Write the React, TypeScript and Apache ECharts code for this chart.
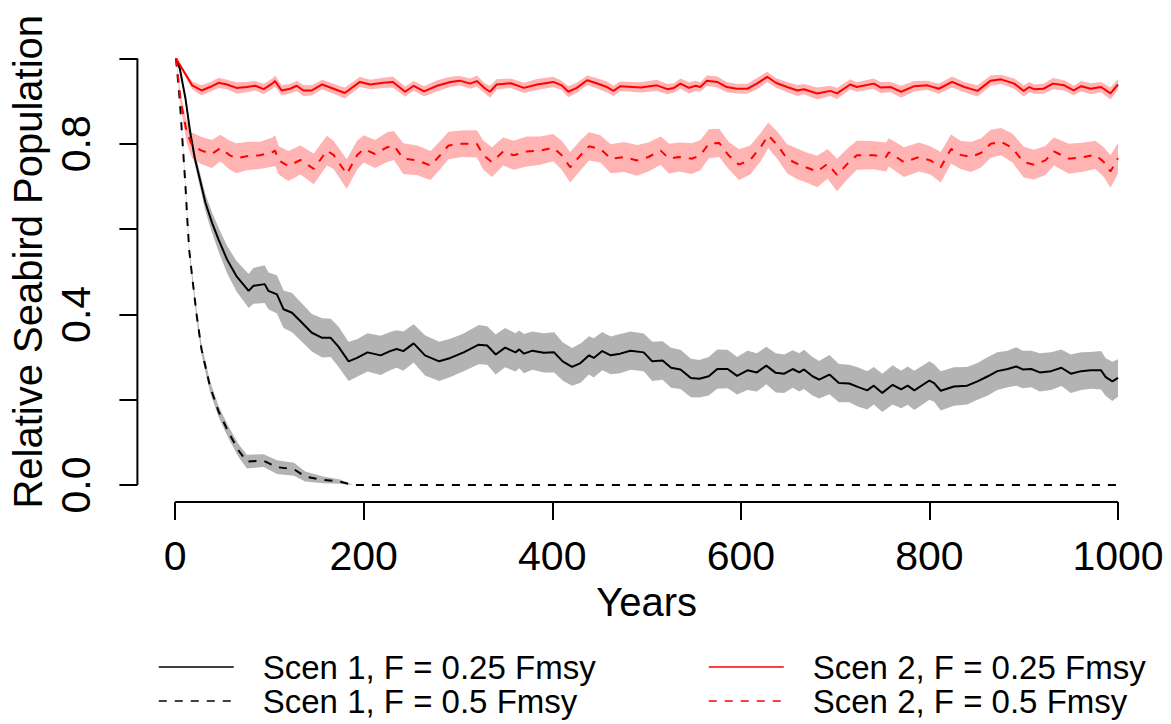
import React, { useEffect, useRef } from "react";
import * as echarts from "echarts";

// ---- tick / label values ----
const xTicks = [0, 200, 400, 600, 800, 1000];
const yTicks = [0, 0.2, 0.4, 0.6, 0.8, 1.0];
const yLabelValues = [0, 0.4, 0.8];

const legendNames = [
  "Scen 1, F = 0.25 Fmsy",
  "Scen 1, F = 0.5 Fmsy",
  "Scen 2, F = 0.25 Fmsy",
  "Scen 2, F = 0.5 Fmsy",
];

// ---- Scen 2, F = 0.25 Fmsy (solid red) ----
const s2aYears = [1,18,28,37,46,55,65,76,85,94,103,106,113,122,129,136,145,156,168,180,196,207,221,231,244,253,264,278,292,302,313,320,329,334,341,356,370,384,401,410,417,426,437,447,458,465,472,494,511,522,529,536,545,552,557,564,575,585,596,607,617,628,637,649,660,667,681,695,702,716,723,741,748,759,770,784,798,810,824,837,851,865,876,890,900,906,911,921,931,943,953,961,971,982,992,1000];
const s2aMean = [1.0,0.937,0.925,0.933,0.943,0.939,0.931,0.933,0.936,0.928,0.941,0.947,0.925,0.929,0.936,0.925,0.925,0.939,0.929,0.919,0.945,0.939,0.943,0.945,0.922,0.936,0.923,0.936,0.945,0.948,0.941,0.947,0.929,0.922,0.939,0.942,0.931,0.939,0.945,0.937,0.922,0.931,0.949,0.942,0.933,0.924,0.935,0.932,0.937,0.928,0.931,0.941,0.931,0.936,0.933,0.948,0.945,0.933,0.929,0.929,0.941,0.957,0.943,0.933,0.925,0.928,0.918,0.924,0.918,0.939,0.933,0.941,0.932,0.933,0.922,0.935,0.937,0.929,0.945,0.933,0.924,0.948,0.951,0.941,0.924,0.933,0.928,0.929,0.941,0.937,0.925,0.935,0.929,0.933,0.918,0.939];
const s2aSpread = [0.000,0.009,0.012,0.011,0.012,0.011,0.013,0.012,0.011,0.012,0.012,0.013,0.012,0.011,0.012,0.013,0.012,0.011,0.012,0.013,0.012,0.011,0.012,0.013,0.012,0.011,0.012,0.013,0.012,0.011,0.012,0.013,0.012,0.014,0.012,0.011,0.012,0.013,0.012,0.011,0.013,0.012,0.011,0.012,0.013,0.012,0.011,0.012,0.013,0.012,0.011,0.012,0.013,0.012,0.011,0.012,0.013,0.012,0.011,0.012,0.013,0.012,0.011,0.012,0.013,0.012,0.014,0.012,0.013,0.012,0.011,0.012,0.013,0.012,0.014,0.012,0.011,0.012,0.013,0.012,0.013,0.012,0.011,0.012,0.013,0.012,0.011,0.012,0.013,0.012,0.011,0.012,0.013,0.012,0.014,0.012];

// ---- Scen 2, F = 0.5 Fmsy (dashed red) ----
const s2bYears = [1,6,12,18,28,39,48,58,65,76,90,103,106,110,120,133,147,161,168,182,193,200,212,225,232,242,257,271,281,290,304,320,327,336,348,359,373,387,401,410,419,430,439,451,462,476,490,502,515,524,534,548,557,566,577,587,598,610,621,629,639,649,660,669,681,692,702,713,723,741,754,757,773,789,801,812,823,833,844,855,865,876,888,900,911,923,932,948,964,976,985,992,1000];
const s2bMean = [1.0,0.90,0.83,0.796,0.784,0.776,0.790,0.773,0.766,0.771,0.773,0.780,0.784,0.761,0.748,0.762,0.741,0.784,0.774,0.729,0.773,0.788,0.776,0.792,0.796,0.765,0.761,0.749,0.773,0.796,0.800,0.800,0.773,0.757,0.782,0.773,0.782,0.784,0.791,0.773,0.745,0.773,0.794,0.788,0.765,0.769,0.761,0.769,0.784,0.765,0.769,0.765,0.773,0.800,0.802,0.773,0.751,0.762,0.792,0.820,0.796,0.765,0.753,0.745,0.735,0.753,0.727,0.753,0.773,0.773,0.769,0.780,0.757,0.769,0.761,0.745,0.788,0.774,0.769,0.779,0.800,0.805,0.790,0.757,0.751,0.761,0.782,0.765,0.769,0.774,0.757,0.735,0.766];
const s2bSpread = [0.000,0.015,0.025,0.030,0.032,0.033,0.031,0.034,0.035,0.033,0.032,0.034,0.036,0.033,0.035,0.034,0.036,0.035,0.033,0.035,0.034,0.032,0.033,0.035,0.034,0.036,0.035,0.034,0.033,0.032,0.031,0.032,0.034,0.035,0.033,0.034,0.035,0.033,0.032,0.034,0.036,0.035,0.033,0.032,0.034,0.035,0.036,0.034,0.033,0.035,0.034,0.036,0.035,0.034,0.033,0.032,0.036,0.034,0.033,0.030,0.032,0.034,0.036,0.035,0.037,0.035,0.038,0.036,0.034,0.033,0.034,0.033,0.035,0.034,0.033,0.036,0.034,0.033,0.035,0.034,0.033,0.032,0.034,0.036,0.035,0.034,0.033,0.035,0.034,0.033,0.035,0.038,0.036];

// ---- Scen 1, F = 0.25 Fmsy (solid black) ----
const s1aYears = [1,5,11,16,21,27,32,39,46,55,65,78,83,95,99,108,115,124,133,145,156,165,173,184,193,204,218,228,235,242,253,265,280,292,306,322,331,340,350,361,365,370,379,391,402,411,421,430,439,444,453,462,472,483,497,506,517,526,536,547,556,566,575,586,596,607,617,627,637,646,655,662,667,676,683,694,704,715,724,734,741,750,761,770,777,784,800,805,812,826,840,851,862,872,883,892,899,908,917,929,940,950,961,971,982,987,994,1000];
const s1aMean = [1.0,0.976,0.906,0.827,0.765,0.710,0.663,0.616,0.576,0.529,0.490,0.455,0.467,0.471,0.455,0.447,0.412,0.404,0.384,0.357,0.345,0.345,0.325,0.290,0.298,0.311,0.304,0.314,0.319,0.314,0.332,0.304,0.290,0.298,0.311,0.329,0.327,0.306,0.322,0.311,0.318,0.308,0.315,0.310,0.311,0.290,0.277,0.286,0.304,0.298,0.314,0.304,0.308,0.315,0.311,0.290,0.292,0.275,0.271,0.251,0.249,0.255,0.272,0.272,0.256,0.269,0.264,0.280,0.263,0.261,0.272,0.264,0.271,0.255,0.247,0.259,0.239,0.238,0.230,0.222,0.233,0.216,0.235,0.224,0.233,0.222,0.245,0.239,0.221,0.231,0.233,0.243,0.255,0.267,0.272,0.278,0.271,0.272,0.264,0.267,0.275,0.261,0.267,0.269,0.269,0.253,0.243,0.251];
const s1aSpread = [0.000,0.004,0.008,0.011,0.014,0.017,0.020,0.024,0.028,0.032,0.036,0.040,0.042,0.044,0.043,0.045,0.044,0.046,0.045,0.044,0.046,0.045,0.047,0.046,0.044,0.045,0.046,0.045,0.044,0.046,0.045,0.047,0.046,0.045,0.044,0.046,0.045,0.047,0.046,0.045,0.044,0.046,0.045,0.046,0.047,0.045,0.044,0.046,0.045,0.046,0.045,0.044,0.046,0.045,0.044,0.046,0.045,0.047,0.046,0.045,0.044,0.045,0.046,0.045,0.044,0.046,0.045,0.044,0.046,0.045,0.044,0.045,0.046,0.045,0.044,0.046,0.045,0.044,0.046,0.045,0.044,0.045,0.046,0.044,0.045,0.046,0.045,0.044,0.046,0.045,0.044,0.043,0.045,0.044,0.043,0.045,0.044,0.043,0.045,0.044,0.043,0.045,0.044,0.043,0.045,0.044,0.046,0.044];

// ---- Scen 1, F = 0.5 Fmsy (dashed black) ----
const s1bYears = [1,5,8,11,13,15,18,23,28,37,46,57,67,76,94,108,126,138,157,175,189,1000];
const s1bMean = [1.0,0.90,0.80,0.70,0.62,0.55,0.49,0.396,0.318,0.231,0.173,0.122,0.082,0.055,0.057,0.042,0.037,0.020,0.012,0.008,0.0,0.0];
const s1bSpread = [0.000,0.004,0.006,0.008,0.009,0.010,0.010,0.011,0.012,0.013,0.013,0.014,0.015,0.016,0.015,0.016,0.015,0.012,0.008,0.005,0.0,0.0];

const FONT = "'Liberation Sans', Arial, Helvetica, sans-serif";
const RED = "#FF0000";
const RED_BAND = "#FFB3B3";
const GREY_BAND = "#B3B3B3";

function bandSeries(id: string, years: number[], mean: number[], spread: number[], color: string) {
  const hi = mean.map((m, i) => m + spread[i]);
  const lo = mean.map((m, i) => Math.max(0, m - spread[i]));
  return {
    type: "custom",
    name: id,
    silent: true,
    z: 1,
    data: years.map((y, i) => [y, lo[i], hi[i]]),
    encode: { x: 0, y: [1, 2] },
    renderItem: (params: any, api: any) => {
      if (params.dataIndex !== 0) return { type: "group", children: [] };
      const up = years.map((y, i) => api.coord([y, hi[i]]));
      const dn = years.map((y, i) => api.coord([y, lo[i]])).reverse();
      return {
        type: "polygon",
        shape: { points: up.concat(dn) },
        style: { fill: color, stroke: null },
      };
    },
  };
}

function lineSeries(name: string, years: number[], mean: number[], color: string, dashed: boolean) {
  return {
    type: "line",
    name,
    data: years.map((y, i) => [y, mean[i]]),
    symbol: "none",
    showSymbol: false,
    silent: true,
    z: 3,
    itemStyle: { color },
    lineStyle: { color, width: 2, type: dashed ? [8, 8] : "solid" },
  };
}

export default function App() {
  const ref = useRef<HTMLDivElement>(null);
  useEffect(() => {
    const chart = echarts.init(ref.current!, null, { renderer: "svg" });
    const legendCommon = {
      orient: "vertical",
      itemWidth: 75,
      itemHeight: 14,
      itemGap: 0,
      padding: 0,
      selectedMode: false,
      itemStyle: { opacity: 0 },
      lineStyle: { width: 1.5 },
      textStyle: { fontSize: 33, fontFamily: FONT, color: "#000", lineHeight: 34, padding: [0, 0, 0, 24] },
    };
    chart.setOption({
      animation: false,
      backgroundColor: "#fff",
      grid: { left: 137.3, right: 15.3, top: 41.4, bottom: 221.9 },
      xAxis: {
        type: "value",
        min: -40,
        max: 1040,
        axisLine: { show: false, onZero: false },
        splitLine: { show: false },
        axisTick: { show: true, length: 18, lineStyle: { color: "#000", width: 2 }, customValues: xTicks },
        axisLabel: {
          customValues: xTicks,
          formatter: (v: number) => String(v),
          fontSize: 41,
          fontFamily: FONT,
          color: "#000",
          margin: 54,
          verticalAlign: "middle",
        },
        name: "Years",
        nameLocation: "middle",
        nameGap: 94,
        nameTextStyle: { fontSize: 40, fontFamily: FONT, color: "#000", verticalAlign: "middle" },
      },
      yAxis: {
        type: "value",
        min: -0.04,
        max: 1.04,
        axisLine: { show: false, onZero: false },
        splitLine: { show: false },
        axisTick: { show: true, length: 18, lineStyle: { color: "#000", width: 2 }, customValues: yTicks },
        axisLabel: {
          customValues: yLabelValues,
          formatter: (v: number) => v.toFixed(1),
          rotate: 90,
          fontSize: 41,
          fontFamily: FONT,
          color: "#000",
          margin: 61,
          align: "center",
          verticalAlign: "middle",
        },
        name: "Relative Seabird Population",
        nameLocation: "middle",
        nameRotate: 90,
        nameGap: 109,
        nameTextStyle: {
          fontSize: 40,
          fontFamily: FONT,
          color: "#000",
          verticalAlign: "middle",
          padding: [0, 0, 0, 20],
        },
      },
      legend: [
        { ...legendCommon, data: [legendNames[0], legendNames[1]], left: 158, top: 650 },
        { ...legendCommon, data: [legendNames[2], legendNames[3]], left: 708, top: 650 },
      ],
      series: [
        bandSeries("band-s1b", s1bYears, s1bMean, s1bSpread, GREY_BAND),
        bandSeries("band-s1a", s1aYears, s1aMean, s1aSpread, GREY_BAND),
        bandSeries("band-s2b", s2bYears, s2bMean, s2bSpread, RED_BAND),
        bandSeries("band-s2a", s2aYears, s2aMean, s2aSpread, RED_BAND),
        lineSeries(legendNames[0], s1aYears, s1aMean, "#000", false),
        lineSeries(legendNames[1], s1bYears, s1bMean, "#000", true),
        lineSeries(legendNames[2], s2aYears, s2aMean, RED, false),
        lineSeries(legendNames[3], s2bYears, s2bMean, RED, true),
        {
          type: "line",
          name: "x-axis-line",
          data: [[0, -0.04], [1000, -0.04]],
          symbol: "none",
          silent: true,
          clip: false,
          z: 4,
          lineStyle: { color: "#000", width: 2 },
        },
        {
          type: "line",
          name: "y-axis-line",
          data: [[-40, 0], [-40, 1]],
          symbol: "none",
          silent: true,
          clip: false,
          z: 4,
          lineStyle: { color: "#000", width: 2 },
        },
      ],
    });
    return () => chart.dispose();
  }, []);
  return (
    <div
      ref={ref}
      style={{ position: "fixed", left: 0, top: 0, width: 1171, height: 724, background: "#fff" }}
    />
  );
}
